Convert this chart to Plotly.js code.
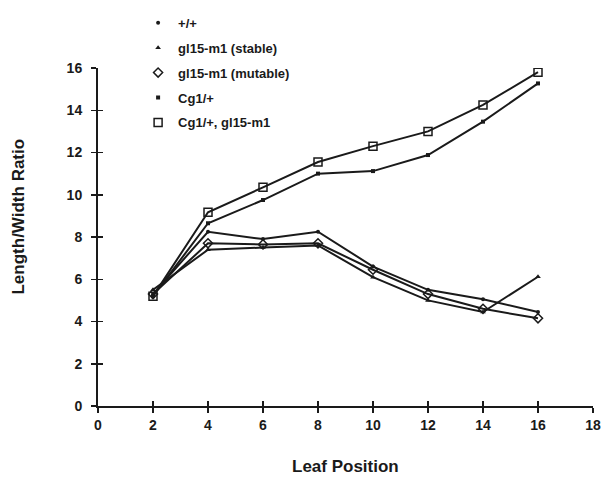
<!DOCTYPE html>
<html>
<head>
<meta charset="utf-8">
<script src="https://cdn.plot.ly/plotly-3.0.1.min.js"></script>
<style>html,body{margin:0;padding:0;background:#fff;}#chart{width:610px;height:478px;}</style>
</head>
<body>
<div id="chart"></div>
<script>
// Data
const leafPosition = [2, 4, 6, 8, 10, 12, 14, 16];
const wildType     = [5.3, 8.25, 7.9, 8.25, 6.6, 5.5, 5.05, 4.45];   // +/+
const gl15Stable   = [5.5, 7.4, 7.5, 7.6, 6.1, 5.0, 4.45, 6.12];     // gl15-m1 (stable)
const gl15Mutable  = [5.3, 7.7, 7.65, 7.7, 6.45, 5.3, 4.6, 4.15];    // gl15-m1 (mutable)
const cg1          = [5.2, 8.65, 9.75, 11.0, 11.12, 11.88, 13.46, 15.27]; // Cg1/+
const cg1Gl15      = [5.2, 9.17, 10.35, 11.55, 12.3, 13.0, 14.25, 15.8];  // Cg1/+, gl15-m1
const seriesNames  = ['+/+', 'gl15-m1 (stable)', 'gl15-m1 (mutable)', 'Cg1/+', 'Cg1/+, gl15-m1'];
const xTicks = [0, 2, 4, 6, 8, 10, 12, 14, 16, 18];
const yTicks = [0, 2, 4, 6, 8, 10, 12, 14, 16];

const FONT = 'Liberation Sans, Arial, Helvetica, sans-serif';
const ink = '#1a1a1a';

const markers = [
  {symbol: 'circle', size: 4, color: ink},
  {symbol: 'triangle-up', size: 5, color: ink},
  {symbol: 'diamond-open', size: 7, color: ink, line: {width: 1.5, color: ink}},
  {symbol: 'square', size: 4, color: ink},
  {symbol: 'square-open', size: 8, color: ink, line: {width: 1.5, color: ink}}
];
const ys = [wildType, gl15Stable, gl15Mutable, cg1, cg1Gl15];

const traces = [];
ys.forEach((y, i) => {
  traces.push({
    x: leafPosition, y: y, type: 'scatter', mode: 'lines+markers',
    line: {color: ink, width: 2}, marker: markers[i], showlegend: false,
    name: seriesNames[i], hoverinfo: 'x+y'
  });
});
// legend-only traces (marker only, as in the reference)
ys.forEach((y, i) => {
  traces.push({
    x: [null], y: [null], type: 'scatter', mode: 'markers',
    marker: markers[i], name: seriesNames[i], showlegend: true,
    legendgroup: 'g' + i, xaxis: 'x2', yaxis: 'y2'
  });
});

const tickFont = {family: FONT, size: 14, color: ink, weight: 'bold'};

const layout = {
  width: 610, height: 478,
  margin: {l: 98, r: 17, t: 68, b: 72, autoexpand: false},
  paper_bgcolor: '#fff', plot_bgcolor: '#fff',
  showlegend: true,
  legend: {
    x: 0.081, y: 1.178, xanchor: 'left', yanchor: 'top',
    font: {family: FONT, size: 13, color: ink, weight: 'bold'},
    tracegroupgap: 5, bgcolor: 'rgba(0,0,0,0)', itemwidth: 30
  },
  xaxis: {
    range: [0, 18], tickvals: xTicks, ticktext: xTicks.map(String),
    showgrid: false, zeroline: false, showline: true, linecolor: ink, linewidth: 2,
    ticks: 'outside', ticklen: 5, tickwidth: 1.5, tickcolor: ink,
    tickfont: tickFont, fixedrange: true
  },
  yaxis: {
    range: [0, 16], tickvals: yTicks, ticktext: yTicks.map(String),
    showgrid: false, zeroline: false, showline: true, linecolor: ink, linewidth: 2,
    ticks: 'outside', ticklen: 5, tickwidth: 1.5, tickcolor: ink,
    tickfont: tickFont, fixedrange: true, ticklabelstandoff: 6
  },
  xaxis2: {
    range: [0, 18], tickvals: xTicks, overlaying: 'x', anchor: 'y2', side: 'bottom',
    showticklabels: false, showgrid: false, zeroline: false, showline: false,
    ticks: 'inside', ticklen: 5, tickwidth: 1.5, tickcolor: ink
  },
  yaxis2: {
    range: [0, 16], tickvals: yTicks, overlaying: 'y', anchor: 'x2', side: 'left',
    showticklabels: false, showgrid: false, zeroline: false, showline: false,
    ticks: 'inside', ticklen: 5, tickwidth: 1.5, tickcolor: ink
  },
  annotations: [
    {text: 'Leaf Position', xref: 'paper', yref: 'paper', x: 0.5, y: -0.18,
     xanchor: 'center', yanchor: 'middle', showarrow: false,
     font: {family: FONT, size: 17, color: ink, weight: 'bold'}},
    {text: 'Length/Width Ratio', xref: 'paper', yref: 'paper', x: -0.16, y: 0.56,
     xanchor: 'center', yanchor: 'middle', showarrow: false, textangle: -90,
     font: {family: FONT, size: 17, color: ink, weight: 'bold'}}
  ]
};

Plotly.newPlot('chart', traces, layout, {displayModeBar: false, staticPlot: true});
</script>
</body>
</html>
